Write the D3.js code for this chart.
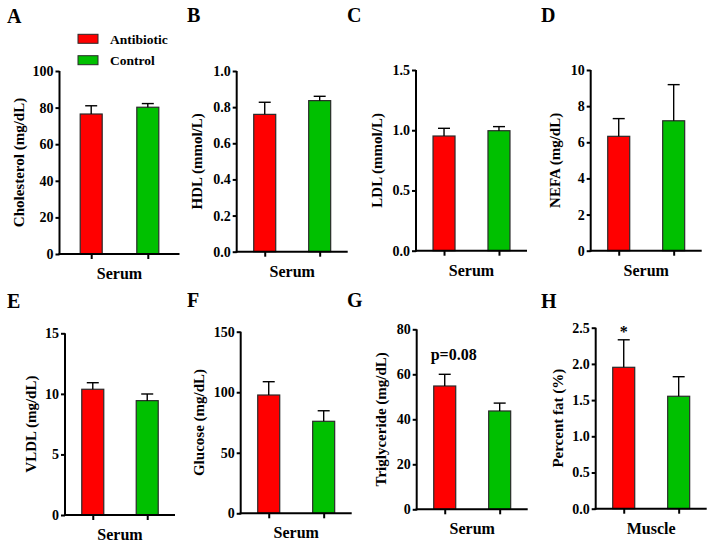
<!DOCTYPE html>
<html><head><meta charset="utf-8">
<script src="https://cdn.jsdelivr.net/npm/d3@7"></script>
<style>body{margin:0;background:#fff}svg{display:block}text{font-family:"Liberation Serif","Times New Roman",serif;font-weight:bold;fill:#000}</style>
</head><body><svg id="c" width="709" height="542"></svg>
<script>
const panelLetters = ["A","B","C","D","E","F","G","H"];
const yTitles = ["Cholesterol (mg/dL)","HDL (mmol/L)","LDL (mmol/L)","NEFA (mg/dL)","VLDL (mg/dL)","Glucose (mg/dL)","Triglyceride (mg/dL)","Percent fat (%)"];
const xLabels = ["Serum","Serum","Serum","Serum","Serum","Serum","Serum","Muscle"];
const groups = ["Antibiotic","Control"];
const antibioticMean = [76.5, 0.76, 0.952, 6.33, 10.38, 97.7, 54.8, 1.953];
const antibioticErr  = [4.5, 0.067, 0.064, 0.98, 0.54, 11.0, 5.2, 0.38];
const controlMean    = [80.2, 0.836, 0.996, 7.19, 9.44, 76.0, 43.7, 1.553];
const controlErr     = [2.0, 0.024, 0.034, 2.0, 0.55, 8.7, 3.5, 0.27];
const yMax  = [100, 1.0, 1.5, 10, 15, 150, 80, 2.5];
const yStep = [20, 0.2, 0.5, 2, 5, 50, 20, 0.5];
const annotations = [null, null, null, null, null, null, {text:"p=0.08", group:0}, {text:"*", group:0}];

// layout (pixels)
const layout = [
  {x:59.5, top:71,    bot:254,   w:120, tx:18.3,  lx:7,   ly:23},
  {x:236.7,top:71,    bot:251.7, w:111, tx:196.7, lx:187, ly:22},
  {x:416,  top:70,    bot:250.7, w:111, tx:376.7, lx:347, ly:22},
  {x:590.7,top:70,    bot:250.7, w:111, tx:555,   lx:541, ly:22},
  {x:65,   top:333.3, bot:515,   w:110, tx:30.7,  lx:7,   ly:308},
  {x:240.7,top:331.7, bot:513.3, w:111, tx:198.3, lx:187, ly:307},
  {x:416.7,top:329.3, bot:509.3, w:111, tx:380.7, lx:347, ly:307},
  {x:595.7,top:327.7, bot:508.7, w:111, tx:557.3, lx:541, ly:308}
];
const colors = ["#ff0000","#00c000"];
const svg = d3.select("#c");
const FONT = '"Liberation Serif","Times New Roman",serif';

panelLetters.forEach((L,i)=>{
  const lo = layout[i];
  const g = svg.append("g");
  const y = d3.scaleLinear().domain([0,yMax[i]]).range([lo.bot,lo.top]);
  const x = d3.scalePoint().domain(groups).range([lo.x, lo.x+lo.w]).padding(i===0?0.56:0.51);
  const ticks = d3.range(0, yMax[i]+yStep[i]/2, yStep[i]);
  const fmt = yStep[i] < 1 ? d3.format(".1f") : d3.format("d");
  const means = [antibioticMean[i], controlMean[i]];
  const errs = [antibioticErr[i], controlErr[i]];
  const bw = 22;
  groups.forEach((gr,k)=>{
    const cx = x(gr);
    g.append("rect").attr("x",cx-bw/2).attr("y",y(means[k])).attr("width",bw)
      .attr("height",lo.bot-y(means[k])).attr("fill",colors[k]).attr("stroke","#2a2a2a").attr("stroke-width",1.2);
    const yt = y(means[k]+errs[k]);
    g.append("line").attr("x1",cx).attr("x2",cx).attr("y1",y(means[k])).attr("y2",yt).attr("stroke","#000").attr("stroke-width",1.4);
    g.append("line").attr("x1",cx-6).attr("x2",cx+6).attr("y1",yt).attr("y2",yt).attr("stroke","#000").attr("stroke-width",1.4);
  });
  const ya = g.append("g").attr("transform",`translate(${lo.x},0)`)
    .call(d3.axisLeft(y).tickValues(ticks).tickFormat(fmt).tickSize(4).tickPadding(2).tickSizeOuter(0));
  ya.attr("font-family",FONT).attr("font-size",14).attr("font-weight","bold");
  ya.select(".domain").attr("stroke","#000").attr("stroke-width",2).attr("d",`M0,${lo.bot+1}V${lo.top}`);
  ya.selectAll(".tick line").attr("stroke","#000").attr("stroke-width",2);
  ya.selectAll(".tick text").style("font-size","14px").style("font-family",FONT).style("font-weight","bold").attr("fill","#000");
  const xa = g.append("g").attr("transform",`translate(0,${lo.bot})`)
    .call(d3.axisBottom(x).tickSize(5).tickFormat("").tickSizeOuter(0));
  xa.select(".domain").attr("stroke","#000").attr("stroke-width",2).attr("d",`M${lo.x-1},0H${lo.x+lo.w}`);
  xa.selectAll(".tick line").attr("stroke","#000").attr("stroke-width",2);
  g.append("text").attr("x",lo.x+lo.w/2).attr("y",lo.bot+25).attr("text-anchor","middle").style("font-size","16px").text(xLabels[i]);
  g.append("text").attr("transform",`translate(${lo.tx},${(lo.top+lo.bot)/2}) rotate(-90)`)
    .attr("text-anchor","middle").attr("dy","0.35em").style("font-size","15px").text(yTitles[i]);
  g.append("text").attr("x",lo.lx).attr("y",lo.ly).style("font-size","20px").text(L);
  const an = annotations[i];
  if(an){
    if(an.text==="*"){
      g.append("text").attr("x",x(groups[an.group])).attr("y",y(means[an.group]+errs[an.group])-3)
        .attr("text-anchor","middle").style("font-size","16px").text(an.text);
    } else {
      g.append("text").attr("x",x(groups[an.group])+9).attr("y",y(means[an.group]+errs[an.group])-14)
        .attr("text-anchor","middle").style("font-size","16px").text(an.text);
    }
  }
});
groups.forEach((gr,k)=>{
  const ly = [34.3,55.7][k];
  svg.append("rect").attr("x",78).attr("y",ly).attr("width",20).attr("height",9).attr("fill",colors[k]).attr("stroke","#2a2a2a").attr("stroke-width",1);
  svg.append("text").attr("x",110).attr("y",ly+9.5).style("font-size","13.5px").text(gr);
});
</script></body></html>
